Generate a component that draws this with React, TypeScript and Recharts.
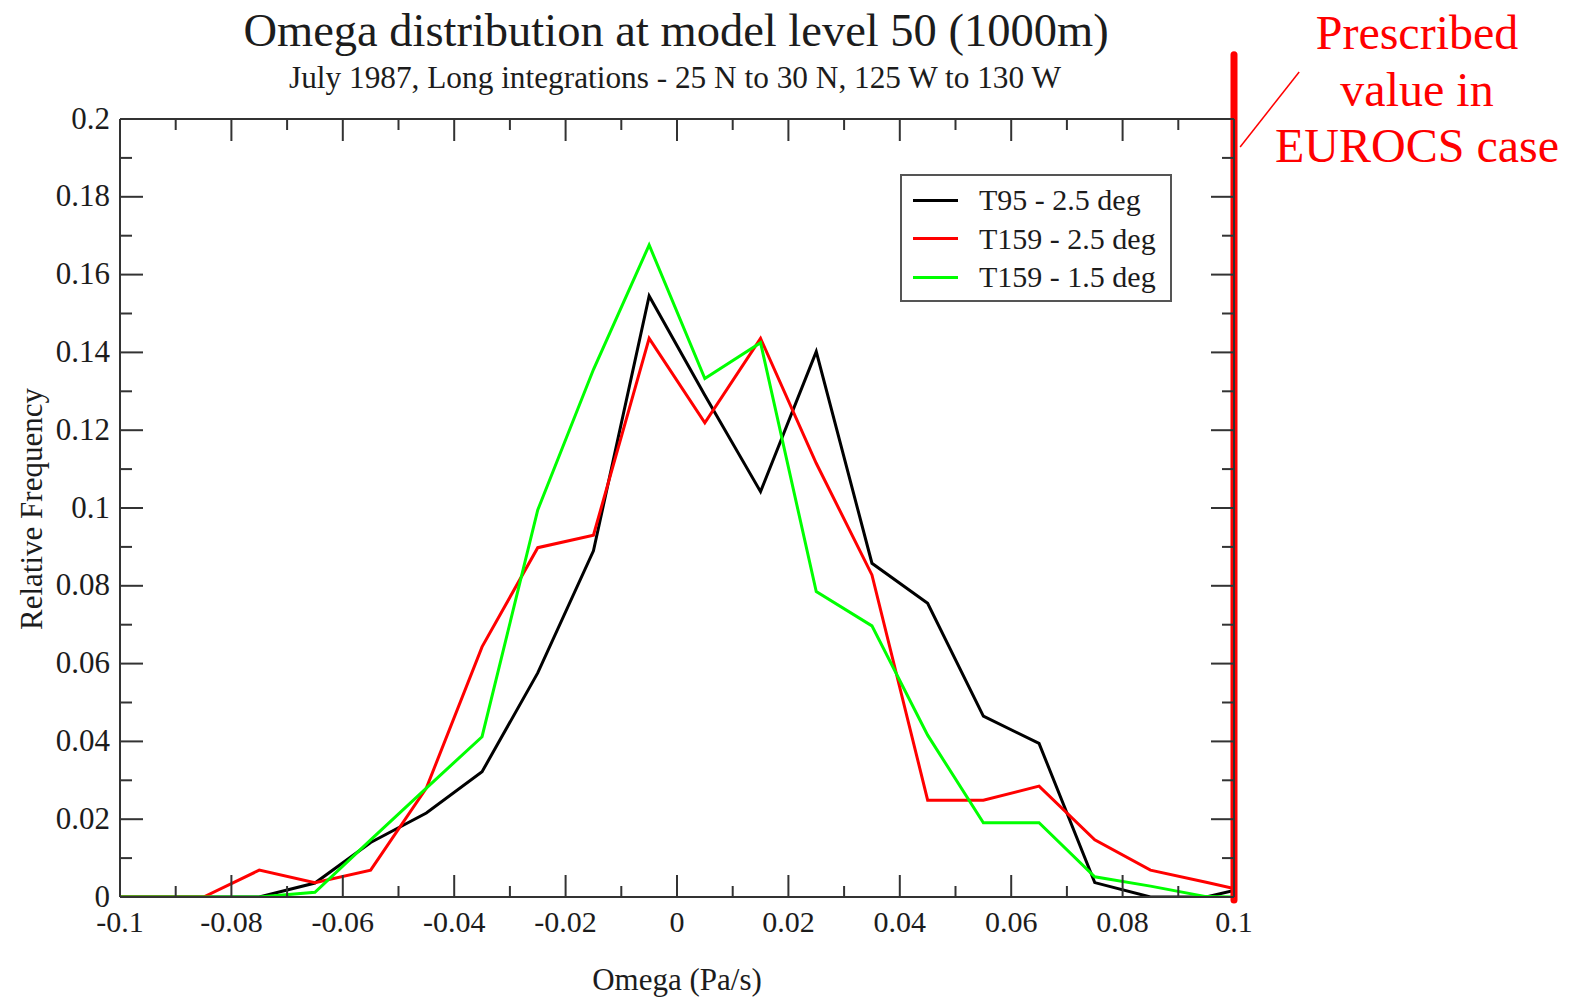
import { LineChart, Line, XAxis, YAxis, ReferenceLine, Legend } from "recharts"

// bin centres (Pa/s), plus the two edges of the plotted range
const omega = [
  -0.1, -0.095, -0.085, -0.075, -0.065, -0.055, -0.045, -0.035, -0.025, -0.015, -0.005,
  0.005, 0.015, 0.025, 0.035, 0.045, 0.055, 0.065, 0.075, 0.085, 0.095, 0.1,
]
const t95 = [
  0, 0, 0, 0, 0.0036, 0.014, 0.0216, 0.0322, 0.0576, 0.089, 0.1545,
  0.129, 0.1042, 0.1402, 0.0858, 0.0755, 0.0465, 0.0395, 0.0037, 0, 0, 0.0017,
]
const t159Coarse = [
  0, 0, 0, 0.0069, 0.0037, 0.0069, 0.028, 0.0643, 0.0898, 0.093, 0.1436,
  0.1219, 0.1436, 0.1115, 0.0828, 0.0249, 0.0249, 0.0285, 0.0147, 0.0069, 0.0038, 0.0022,
]
const t159Fine = [
  0, 0, 0, 0, 0.0012, 0.0147, 0.028, 0.0412, 0.0995, 0.1356, 0.1676,
  0.1333, 0.1425, 0.0785, 0.0697, 0.0416, 0.0191, 0.0191, 0.0052, 0.0028, 0.0001, 0,
]

const seriesKeys = ["t95", "t159Coarse", "t159Fine"]
const seriesNames = ["T95 - 2.5 deg", "T159 - 2.5 deg", "T159 - 1.5 deg"]
const seriesColors = ["#000000", "#ff0000", "#00ff00"]

const xTicks = [
  -0.1, -0.09, -0.08, -0.07, -0.06, -0.05, -0.04, -0.03, -0.02, -0.01, 0,
  0.01, 0.02, 0.03, 0.04, 0.05, 0.06, 0.07, 0.08, 0.09, 0.1,
]
const yTicks = [
  0, 0.01, 0.02, 0.03, 0.04, 0.05, 0.06, 0.07, 0.08, 0.09, 0.1,
  0.11, 0.12, 0.13, 0.14, 0.15, 0.16, 0.17, 0.18, 0.19, 0.2,
]

// EUROCS prescribed omega and the note pointing at it
const prescribedOmega = 0.1
const prescribedSpan = [-0.0008, 0.2165]
const pointer = [
  { x: 0.1011, y: 0.1928 },
  { x: 0.1117, y: 0.2121 },
]
const noteLines = ["Prescribed", "value in", "EUROCS case"]

const data = omega.map((x, i) => ({
  x,
  t95: t95[i],
  t159Coarse: t159Coarse[i],
  t159Fine: t159Fine[i],
}))

const FONT = "'Liberation Serif', 'Times New Roman', serif"
const INK = "#1c1c1c"
const AXIS = "#333"

const fmt = (v: number) => String(Number(v.toFixed(2)))
const isMajor = (v: number) => Math.round(v * 100) % 2 === 0

function BottomTick({ x, y, payload }: any) {
  const major = isMajor(payload.value)
  return (
    <g>
      <line x1={x} x2={x} y1={y} y2={y - (major ? 22 : 11)} stroke={AXIS} strokeWidth={2} />
      {major && (
        <text x={x} y={y + 35} textAnchor="middle" fontFamily={FONT} fontSize={30} fill={INK}>
          {fmt(payload.value)}
        </text>
      )}
    </g>
  )
}

function TopTick({ x, y, payload }: any) {
  const major = isMajor(payload.value)
  return <line x1={x} x2={x} y1={y} y2={y + (major ? 22 : 11)} stroke={AXIS} strokeWidth={2} />
}

function LeftTick({ x, y, payload }: any) {
  const major = isMajor(payload.value)
  return (
    <g>
      <line x1={x} x2={x + (major ? 23 : 12)} y1={y} y2={y} stroke={AXIS} strokeWidth={2} />
      {major && (
        <text x={x - 10} y={y - 1} textAnchor="end" dominantBaseline="central" fontFamily={FONT} fontSize={31} fill={INK}>
          {fmt(payload.value)}
        </text>
      )}
    </g>
  )
}

function RightTick({ x, y, payload }: any) {
  const major = isMajor(payload.value)
  return <line x1={x} x2={x - (major ? 23 : 12)} y1={y} y2={y} stroke={AXIS} strokeWidth={2} />
}

function LegendBox() {
  return (
    <div
      style={{
        border: "2px solid #555",
        background: "#fff",
        width: 272,
        height: 128,
        boxSizing: "border-box",
        padding: "5px 0 0 11px",
        fontFamily: FONT,
        fontSize: 30,
        color: INK,
      }}
    >
      {seriesNames.map((name, i) => (
        <div key={name} style={{ display: "flex", alignItems: "center", height: 38.5 }}>
          <div style={{ width: 45, height: 3, background: seriesColors[i], marginRight: 21 }} />
          <span>{name}</span>
        </div>
      ))}
    </div>
  )
}

export default function App() {
  return (
    <div style={{ position: "absolute", left: 0, top: 0, width: 1575, height: 1001, background: "#fff" }}>
      <LineChart width={1575} height={1001} data={data} margin={{ top: 118, right: 340, bottom: 0, left: 0 }}>
        <XAxis
          dataKey="x"
          type="number"
          domain={[-0.1, 0.1]}
          ticks={xTicks}
          interval={0}
          allowDataOverflow
          height={104}
          tickSize={0}
          tickMargin={0}
          tick={<BottomTick />}
          axisLine={{ stroke: AXIS, strokeWidth: 2 }}
        />
        <XAxis
          xAxisId="top"
          orientation="top"
          dataKey="x"
          type="number"
          domain={[-0.1, 0.1]}
          ticks={xTicks}
          interval={0}
          allowDataOverflow
          height={1}
          tickSize={0}
          tickMargin={0}
          tick={<TopTick />}
          axisLine={{ stroke: AXIS, strokeWidth: 2 }}
        />
        <YAxis
          type="number"
          domain={[0, 0.2]}
          ticks={yTicks}
          interval={0}
          allowDataOverflow
          width={120}
          tickSize={0}
          tickMargin={0}
          tick={<LeftTick />}
          axisLine={{ stroke: AXIS, strokeWidth: 2 }}
        />
        <YAxis
          yAxisId="right"
          orientation="right"
          type="number"
          domain={[0, 0.2]}
          ticks={yTicks}
          interval={0}
          allowDataOverflow
          width={1}
          tickSize={0}
          tickMargin={0}
          tick={<RightTick />}
          axisLine={{ stroke: AXIS, strokeWidth: 2 }}
        />
        {/* invisible series so the mirrored top/right axes get their scales */}
        <Line
          xAxisId="top"
          yAxisId="right"
          dataKey="t95"
          stroke="none"
          dot={false}
          activeDot={false}
          legendType="none"
          isAnimationActive={false}
        />
        {seriesKeys.map((key, i) => (
          <Line
            key={key}
            type="linear"
            dataKey={key}
            name={seriesNames[i]}
            stroke={seriesColors[i]}
            strokeWidth={3}
            dot={false}
            isAnimationActive={false}
          />
        ))}
        <ReferenceLine
          segment={[
            { x: prescribedOmega, y: prescribedSpan[0] },
            { x: prescribedOmega, y: prescribedSpan[1] },
          ]}
          stroke="#ff0000"
          strokeWidth={7}
          strokeLinecap="round"
          ifOverflow="visible"
        />
        <ReferenceLine segment={pointer} stroke="#ff0000" strokeWidth={1.5} ifOverflow="visible" />
        <Legend
          layout="vertical"
          align="center"
          verticalAlign="middle"
          wrapperStyle={{ left: 900, top: 174, width: 272 }}
          content={() => <LegendBox />}
        />
      </LineChart>
      <svg
        width={1575}
        height={1001}
        style={{ position: "absolute", left: 0, top: 0, pointerEvents: "none" }}
        fontFamily={FONT}
      >
        <text x={676} y={46} textAnchor="middle" fontSize={46.5} fill={INK}>
          Omega distribution at model level 50 (1000m)
        </text>
        <text x={675} y={88} textAnchor="middle" fontSize={31.3} fill={INK}>
          July 1987, Long integrations - 25 N to 30 N, 125 W to 130 W
        </text>
        <text
          x={31}
          y={509}
          textAnchor="middle"
          dominantBaseline="central"
          fontSize={31}
          fill={INK}
          transform="rotate(-90 31 509)"
        >
          Relative Frequency
        </text>
        <text x={677} y={990} textAnchor="middle" fontSize={31} fill={INK}>
          Omega (Pa/s)
        </text>
        {noteLines.map((line, i) => (
          <text key={line} x={1417} y={49 + i * 56.5} textAnchor="middle" fontSize={48} fill="#ff0000">
            {line}
          </text>
        ))}
      </svg>
    </div>
  )
}
